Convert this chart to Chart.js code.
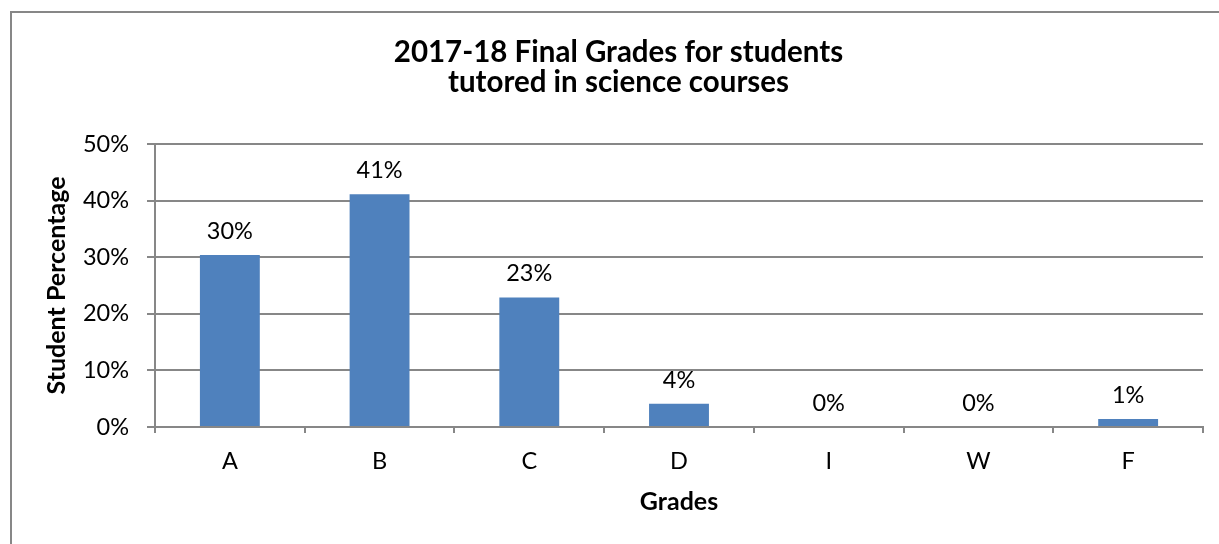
<!DOCTYPE html>
<html>
<head>
<meta charset="utf-8">
<script src="https://cdn.jsdelivr.net/npm/chart.js@4.4.1/dist/chart.umd.min.js"></script>
<style>
  html, body { margin: 0; padding: 0; background: #fff; }
  canvas { display: block; }
</style>
</head>
<body>
<canvas id="c" width="1219" height="544"></canvas>
<script>
const titleLines = ['2017-18 Final Grades for students', 'tutored in science courses'];
const categories = ['A', 'B', 'C', 'D', 'I', 'W', 'F'];
const percentages = [30.4, 41.1, 22.9, 4.1, 0, 0, 1.4];
const yTicks = [0, 10, 20, 30, 40, 50];
const yAxisTitle = 'Student Percentage';
const xAxisTitle = 'Grades';

const FONT = 'Lato';
const GRID = '#878787';
const BAR = '#4F81BD';

const frame = {
  id: 'frame',
  beforeDraw(chart) {
    const ctx = chart.ctx;
    ctx.save();
    ctx.fillStyle = '#fff';
    ctx.fillRect(0, 0, chart.width, chart.height);
    ctx.strokeStyle = GRID;
    ctx.lineWidth = 2;
    ctx.strokeRect(11, 12, chart.width + 20, chart.height + 20);
    ctx.restore();
  }
};

const valueLabels = {
  id: 'valueLabels',
  afterDatasetsDraw(chart) {
    const ctx = chart.ctx;
    const meta = chart.getDatasetMeta(0);
    ctx.save();
    ctx.font = '23.5px ' + FONT;
    ctx.fillStyle = '#000';
    ctx.textAlign = 'center';
    ctx.textBaseline = 'alphabetic';
    meta.data.forEach((bar, i) => {
      const v = chart.data.datasets[0].data[i];
      ctx.fillText(Math.round(v) + '%', bar.x, bar.y - 16);
    });
    ctx.restore();
  }
};

new Chart(document.getElementById('c'), {
  type: 'bar',
  data: {
    labels: categories,
    datasets: [{
      data: percentages,
      backgroundColor: BAR,
      borderWidth: 0,
      barPercentage: 0.4,
      categoryPercentage: 1.0
    }]
  },
  options: {
    responsive: false,
    animation: false,
    layout: { padding: { left: 34, right: 16, top: 37, bottom: 0 } },
    plugins: {
      legend: { display: false },
      tooltip: { enabled: false },
      title: {
        display: true,
        text: titleLines,
        color: '#000',
        font: { family: FONT, size: 29.5, weight: 'bold', lineHeight: 30 / 29.5 },
        padding: { top: 0, bottom: 47 }
      }
    },
    scales: {
      y: {
        min: 0,
        max: 50,
        afterBuildTicks(scale) { scale.ticks = yTicks.map(v => ({ value: v })); },
        afterFit(scale) { scale.width = 121; },
        ticks: {
          color: '#000',
          font: { family: FONT, size: 23.5 },
          padding: 18,
          callback: v => v + '%'
        },
        grid: { color: GRID, lineWidth: 2, tickLength: 8 },
        border: { color: GRID, width: 2 },
        title: {
          display: true,
          text: yAxisTitle,
          color: '#000',
          font: { family: FONT, size: 25, weight: 'bold' },
          padding: { top: 8, bottom: 0 }
        }
      },
      x: {
        afterFit(scale) { scale.height = 117; },
        ticks: {
          color: '#000',
          font: { family: FONT, size: 23.5 },
          padding: 14
        },
        grid: { offset: true, drawOnChartArea: false, color: GRID, lineWidth: 2, tickLength: 6 },
        border: { color: GRID, width: 2 },
        title: {
          display: true,
          text: xAxisTitle,
          color: '#000',
          font: { family: FONT, size: 25, weight: 'bold' },
          padding: { top: 0, bottom: 27 }
        }
      }
    }
  },
  plugins: [frame, valueLabels]
});
</script>
</body>
</html>
